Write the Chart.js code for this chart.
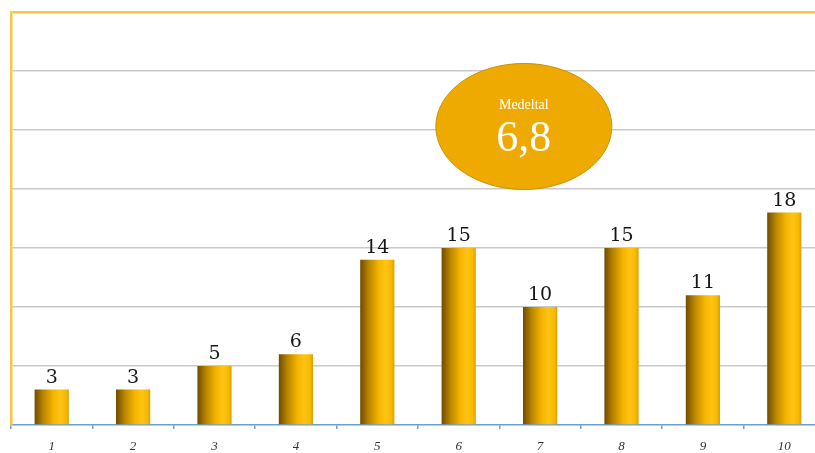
<!DOCTYPE html>
<html>
<head>
<meta charset="utf-8">
<script src="https://cdn.jsdelivr.net/npm/chart.js@4/dist/chart.umd.min.js"></script>
<style>
  html, body { margin: 0; padding: 0; background: #fff; overflow: hidden; }
</style>
</head>
<body>
<canvas id="barChart" width="825" height="453"></canvas>
<script>
// --------------------
// Data
// --------------------
const categories = ['1', '2', '3', '4', '5', '6', '7', '8', '9', '10'];
const counts = [3, 3, 5, 6, 14, 15, 10, 15, 11, 18];
const yMax = 35;
const yStep = 5;
const meanTitle = 'Medeltal';
const meanValue = '6,8';

const yellowLine = '#f9c544';
const gridGray = '#c9c9c9';
const axisBlue = '#6a9fd4';

// --------------------
// Plugins
// --------------------
const valueLabels = {
    id: 'valueLabels',
    afterDatasetsDraw(chart) {
        const ctx = chart.ctx;
        const meta = chart.getDatasetMeta(0);
        ctx.save();
        ctx.fillStyle = '#161616';
        ctx.font = '19px "DejaVu Serif"';
        ctx.textAlign = 'center';
        ctx.textBaseline = 'alphabetic';
        meta.data.forEach((bar, i) => {
            ctx.fillText(String(counts[i]), bar.x, bar.y - 7);
        });
        ctx.restore();
    }
};

const meanBubble = {
    id: 'meanBubble',
    afterDraw(chart) {
        const { ctx, scales } = chart;
        const step = scales.x.getPixelForValue(6) - scales.x.getPixelForValue(5);
        const cx = scales.x.getPixelForValue(5) + 0.8 * step;
        const cy = scales.y.getPixelForValue(25.3);
        ctx.save();
        ctx.beginPath();
        ctx.ellipse(cx, cy, 88, 63, 0, 0, Math.PI * 2);
        ctx.fillStyle = '#eeaa00';
        ctx.fill();
        ctx.lineWidth = 1;
        ctx.strokeStyle = '#c89200';
        ctx.stroke();
        ctx.fillStyle = '#fff';
        ctx.textAlign = 'center';
        ctx.textBaseline = 'middle';
        ctx.font = '14px "Liberation Serif"';
        ctx.fillText(meanTitle, cx, cy - 21);
        ctx.font = '44px "Liberation Serif"';
        ctx.fillText(meanValue, cx, cy + 13);
        ctx.restore();
    }
};

// --------------------
// Bar gradient
// --------------------
function barFill(context) {
    const chart = context.chart;
    const xs = chart.scales.x;
    if (!chart.chartArea || !xs || context.dataIndex === undefined) return '#f0b000';
    const cx = xs.getPixelForValue(context.dataIndex);
    const half = xs.width / categories.length * 0.42 / 2;
    const g = chart.ctx.createLinearGradient(cx - half, 0, cx + half, 0);
    g.addColorStop(0, '#6e4c00');
    g.addColorStop(0.25, '#b88500');
    g.addColorStop(0.55, '#f5b500');
    g.addColorStop(0.75, '#ffc414');
    g.addColorStop(0.92, '#f6b800');
    g.addColorStop(1, '#d89e00');
    return g;
}

// --------------------
// Render Chart
// --------------------
new Chart(document.getElementById('barChart'), {
    type: 'bar',
    data: {
        labels: categories,
        datasets: [{
            data: counts,
            backgroundColor: barFill,
            borderWidth: 0,
            barPercentage: 0.42,
            categoryPercentage: 1
        }]
    },
    options: {
        responsive: false,
        animation: false,
        layout: { padding: { left: 11, top: 12, right: 0, bottom: 0 } },
        plugins: { legend: { display: false }, tooltip: { enabled: false } },
        scales: {
            x: {
                afterFit(scale) { scale.height = 28; },
                grid: {
                    display: true,
                    drawOnChartArea: false,
                    drawTicks: true,
                    tickLength: 4,
                    color: axisBlue,
                    lineWidth: 1.5,
                    offset: true
                },
                border: { display: true, color: axisBlue, width: 1.5 },
                ticks: {
                    color: '#333',
                    padding: 10,
                    font: { family: '"Liberation Serif"', style: 'italic', size: 13 }
                }
            },
            y: {
                min: 0,
                max: yMax,
                ticks: { display: false, stepSize: yStep },
                grid: {
                    drawTicks: false,
                    color: c => c.tick.value === yMax ? yellowLine : (c.tick.value === 0 ? 'rgba(0,0,0,0)' : gridGray),
                    lineWidth: c => c.tick.value === yMax ? 2.5 : 1.5
                },
                border: { display: true, color: yellowLine, width: 2.5 }
            }
        }
    },
    plugins: [valueLabels, meanBubble]
});
</script>
</body>
</html>
